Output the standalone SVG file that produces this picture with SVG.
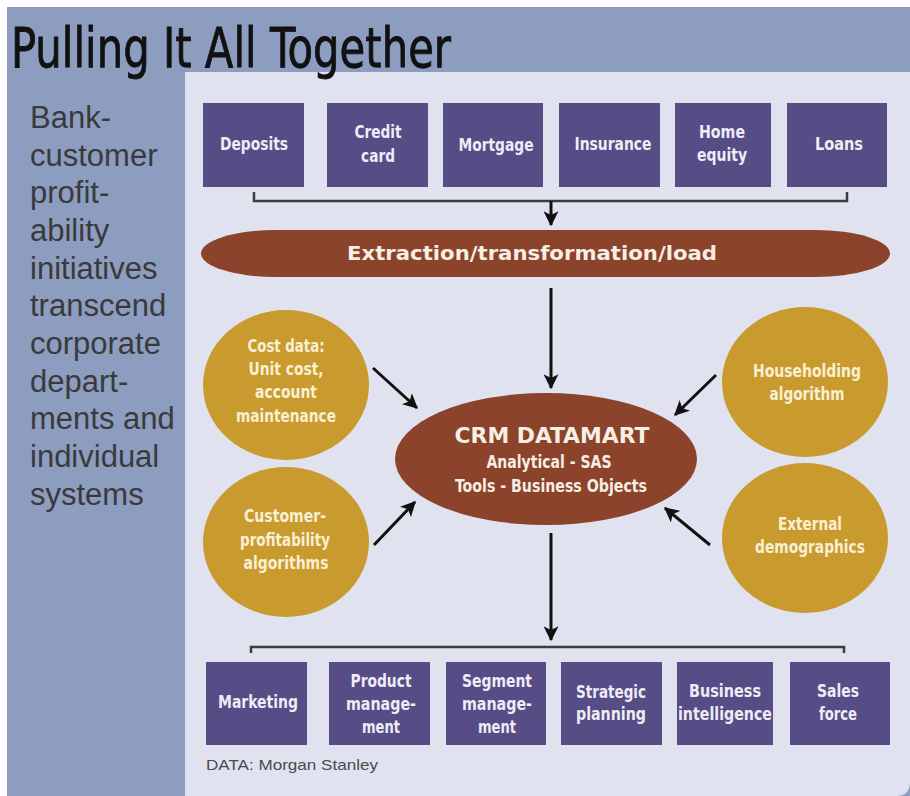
<svg xmlns="http://www.w3.org/2000/svg" width="910" height="796" viewBox="0 0 910 796">
<defs>
<style>
.bx{fill:#564d87;}
.bt{font-family:"DejaVu Sans Condensed","Liberation Sans",sans-serif;font-weight:bold;font-size:18px;fill:#efecf5;text-anchor:middle;}
.ct{font-family:"DejaVu Sans Condensed","Liberation Sans",sans-serif;font-weight:bold;font-size:18px;fill:#f9f0d4;text-anchor:middle;}
.circ{fill:#c99a2e;}
.ell{fill:#8b432b;}
.et{font-family:"DejaVu Sans Condensed","Liberation Sans",sans-serif;font-weight:bold;fill:#f7eee4;text-anchor:middle;}
.side{font-family:"Liberation Sans",Arial,sans-serif;font-size:31px;fill:#3a3a3c;}
.arr{stroke:#111;stroke-width:3;fill:none;marker-end:url(#ah);}
.brk{stroke:#3c3c3c;stroke-width:2.5;fill:none;}
</style>
<marker id="ah" viewBox="0 0 12 12" refX="11" refY="6" markerWidth="5" markerHeight="5" markerUnits="strokeWidth" orient="auto">
<path d="M0,0 L12,6 L0,12 L3,6 z" fill="#111"/>
</marker>
</defs>
<rect x="0" y="0" width="910" height="796" fill="#ffffff"/>
<rect x="7" y="7" width="903" height="789" fill="#8c9dbf"/>
<path d="M185,72 H910 V782 Q910,796 896,796 H185 Z" fill="#e0e3ef"/>
<text x="11" y="67" font-family="DejaVu Sans Condensed,Liberation Sans,Arial,sans-serif" font-size="55" fill="#111" stroke="#111" stroke-width="0.8" textLength="440" lengthAdjust="spacingAndGlyphs">Pulling It All Together</text>
<g id="sidebar-text" class="side">
<text x="30" y="128">Bank-</text>
<text x="30" y="166">customer</text>
<text x="30" y="203">profit-</text>
<text x="30" y="241">ability</text>
<text x="30" y="279">initiatives</text>
<text x="30" y="316">transcend</text>
<text x="30" y="354">corporate</text>
<text x="30" y="392">depart-</text>
<text x="30" y="429">ments and</text>
<text x="30" y="467">individual</text>
<text x="30" y="505">systems</text>
</g>
<g id="connectors">
<path class="brk" d="M254,192 V201 H847 V192"/>
<line class="arr" x1="551" y1="201" x2="551" y2="225"/>
<line class="arr" x1="551" y1="288" x2="551" y2="388"/>
<line class="arr" x1="373" y1="368" x2="417" y2="408"/>
<line class="arr" x1="374" y1="545" x2="415" y2="502"/>
<line class="arr" x1="716" y1="375" x2="675" y2="415"/>
<line class="arr" x1="710" y1="545" x2="665" y2="508"/>
<line class="arr" x1="551" y1="533" x2="551" y2="640"/>
<path class="brk" d="M251,653 V647 H844 V653"/>
</g>
<g id="deposits"><rect class="bx" x="203" y="103" width="101" height="84"/><text class="bt" x="254" y="150" textLength="68" lengthAdjust="spacingAndGlyphs">Deposits</text></g>
<g id="credit-card"><rect class="bx" x="327" y="103" width="101" height="84"/><text class="bt" x="378" y="138" textLength="47" lengthAdjust="spacingAndGlyphs">Credit</text><text class="bt" x="378" y="162" textLength="34" lengthAdjust="spacingAndGlyphs">card</text></g>
<g id="mortgage"><rect class="bx" x="443" y="103" width="100" height="84"/><text class="bt" x="496" y="151" textLength="75" lengthAdjust="spacingAndGlyphs">Mortgage</text></g>
<g id="insurance"><rect class="bx" x="559" y="103" width="101" height="84"/><text class="bt" x="613" y="150" textLength="77" lengthAdjust="spacingAndGlyphs">Insurance</text></g>
<g id="home-equity"><rect class="bx" x="675" y="103" width="96" height="84"/><text class="bt" x="722" y="138" textLength="46" lengthAdjust="spacingAndGlyphs">Home</text><text class="bt" x="722" y="161" textLength="50" lengthAdjust="spacingAndGlyphs">equity</text></g>
<g id="loans"><rect class="bx" x="787" y="103" width="100" height="84"/><text class="bt" x="839" y="150" textLength="48" lengthAdjust="spacingAndGlyphs">Loans</text></g>
<g id="etl"><rect class="ell" x="201" y="230" width="689" height="47" rx="75" ry="23.5"/><text class="et" x="532" y="260" font-size="20" textLength="370" lengthAdjust="spacingAndGlyphs" font-family="Liberation Sans,Arial,sans-serif">Extraction/transformation/load</text></g>
<g id="cost-data"><ellipse class="circ" cx="286" cy="385" rx="83" ry="75"/><text class="ct" x="286" y="352" textLength="77" lengthAdjust="spacingAndGlyphs">Cost data:</text><text class="ct" x="286" y="375" textLength="75" lengthAdjust="spacingAndGlyphs">Unit cost,</text><text class="ct" x="286" y="398" textLength="62" lengthAdjust="spacingAndGlyphs">account</text><text class="ct" x="286" y="422" textLength="100" lengthAdjust="spacingAndGlyphs">maintenance</text></g>
<g id="customer-profitability"><ellipse class="circ" cx="286" cy="542" rx="83" ry="75"/><text class="ct" x="285" y="522" textLength="82" lengthAdjust="spacingAndGlyphs">Customer-</text><text class="ct" x="285" y="546" textLength="90" lengthAdjust="spacingAndGlyphs">profitability</text><text class="ct" x="286" y="569" textLength="85" lengthAdjust="spacingAndGlyphs">algorithms</text></g>
<g id="householding"><ellipse class="circ" cx="805" cy="382" rx="83" ry="75"/><text class="ct" x="807" y="377" textLength="108" lengthAdjust="spacingAndGlyphs">Householding</text><text class="ct" x="807" y="400" textLength="75" lengthAdjust="spacingAndGlyphs">algorithm</text></g>
<g id="external-demographics"><ellipse class="circ" cx="805" cy="538" rx="83" ry="75"/><text class="ct" x="810" y="530" textLength="64" lengthAdjust="spacingAndGlyphs">External</text><text class="ct" x="810" y="553" textLength="110" lengthAdjust="spacingAndGlyphs">demographics</text></g>
<g id="crm-datamart"><ellipse class="ell" cx="546" cy="459" rx="151" ry="66"/><text class="et" x="552" y="443" font-size="21" font-family="Liberation Sans,Arial,sans-serif" textLength="195" lengthAdjust="spacingAndGlyphs">CRM DATAMART</text><text class="et" x="549" y="468" font-size="18" textLength="125" lengthAdjust="spacingAndGlyphs">Analytical - SAS</text><text class="et" x="551" y="492" font-size="18" textLength="192" lengthAdjust="spacingAndGlyphs">Tools - Business Objects</text></g>
<g id="marketing"><rect class="bx" x="206" y="662" width="101" height="83"/><text class="bt" x="258" y="708" textLength="80" lengthAdjust="spacingAndGlyphs">Marketing</text></g>
<g id="product-management"><rect class="bx" x="329" y="662" width="101" height="83"/><text class="bt" x="381" y="687" textLength="61" lengthAdjust="spacingAndGlyphs">Product</text><text class="bt" x="381" y="710" textLength="70" lengthAdjust="spacingAndGlyphs">manage-</text><text class="bt" x="381" y="733" textLength="38" lengthAdjust="spacingAndGlyphs">ment</text></g>
<g id="segment-management"><rect class="bx" x="446" y="662" width="100" height="83"/><text class="bt" x="497" y="687" textLength="70" lengthAdjust="spacingAndGlyphs">Segment</text><text class="bt" x="497" y="710" textLength="70" lengthAdjust="spacingAndGlyphs">manage-</text><text class="bt" x="497" y="733" textLength="38" lengthAdjust="spacingAndGlyphs">ment</text></g>
<g id="strategic-planning"><rect class="bx" x="561" y="662" width="101" height="83"/><text class="bt" x="611" y="698" textLength="70" lengthAdjust="spacingAndGlyphs">Strategic</text><text class="bt" x="611" y="720" textLength="70" lengthAdjust="spacingAndGlyphs">planning</text></g>
<g id="business-intelligence"><rect class="bx" x="677" y="662" width="96" height="83"/><text class="bt" x="725" y="697" textLength="72" lengthAdjust="spacingAndGlyphs">Business</text><text class="bt" x="725" y="720" textLength="94" lengthAdjust="spacingAndGlyphs">intelligence</text></g>
<g id="sales-force"><rect class="bx" x="790" y="662" width="100" height="83"/><text class="bt" x="838" y="697" textLength="42" lengthAdjust="spacingAndGlyphs">Sales</text><text class="bt" x="838" y="720" textLength="38" lengthAdjust="spacingAndGlyphs">force</text></g>
<text x="206" y="770" font-family="Liberation Sans,Arial,sans-serif" font-size="15" fill="#4a4a4e" textLength="172" lengthAdjust="spacingAndGlyphs">DATA: Morgan Stanley</text>
</svg>
